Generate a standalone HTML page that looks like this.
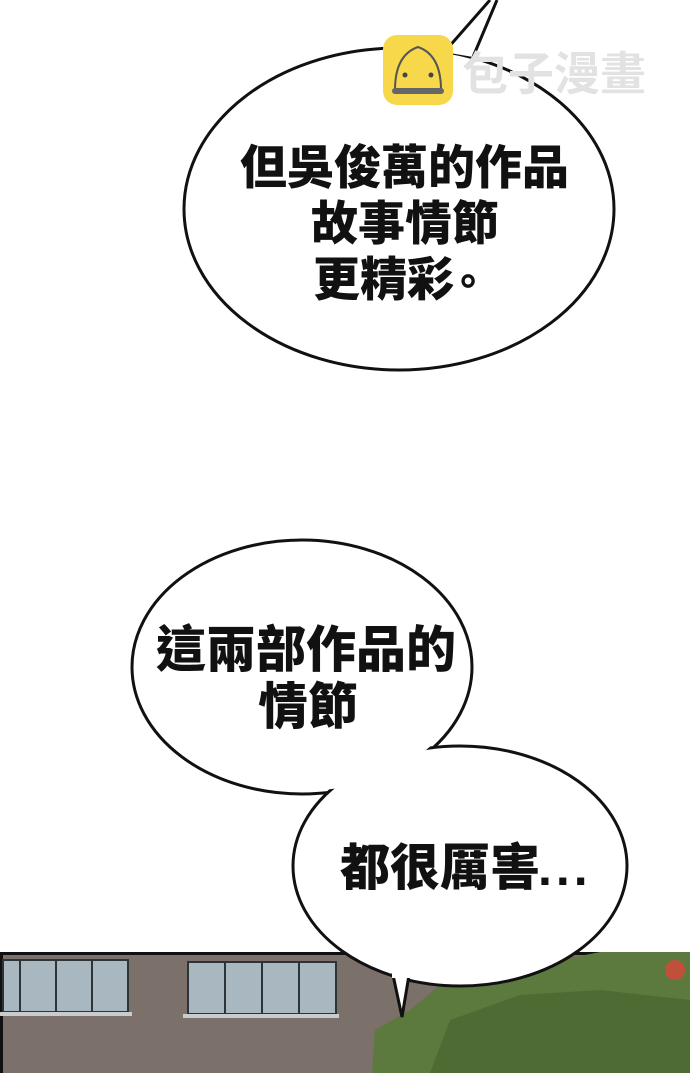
<!DOCTYPE html>
<html><head><meta charset="utf-8"><style>
html,body{margin:0;padding:0;background:#fff;width:690px;height:1073px;overflow:hidden}
svg{display:block}
text{font-family:"Liberation Sans","Noto Sans CJK TC",sans-serif;font-weight:900;fill:#111}
</style></head><body>
<svg width="690" height="1073" viewBox="0 0 690 1073">
<rect x="0" y="952" width="690" height="121" fill="#7c706b"/>
<rect x="0" y="952" width="690" height="3" fill="#111"/>
<rect x="0" y="952" width="3" height="121" fill="#111"/>
<rect x="687" y="952" width="3" height="121" fill="#111"/>
<g fill="#a9b7c0" stroke="#2d3438" stroke-width="2">
<rect x="3" y="960" width="125" height="52"/>
<rect x="188" y="962" width="148" height="52"/>
</g>
<g stroke="#2d3438" stroke-width="2">
<line x1="20" y1="960" x2="20" y2="1012"/><line x1="56" y1="960" x2="56" y2="1012"/><line x1="92" y1="960" x2="92" y2="1012"/>
<line x1="225" y1="962" x2="225" y2="1014"/><line x1="262" y1="962" x2="262" y2="1014"/><line x1="299" y1="962" x2="299" y2="1014"/>
</g>
<rect x="0" y="1012" width="132" height="4" fill="#c9ccce"/>
<rect x="183" y="1014" width="156" height="4" fill="#c9ccce"/>
<path d="M372 1073 L375 1030 L410 1010 L440 985 L500 970 L560 960 L600 952 L690 952 L690 1073 Z" fill="#5d7a3e"/>
<path d="M430 1073 L450 1020 L520 995 L600 990 L690 1000 L690 1073Z" fill="#4e6b33"/>
<circle cx="675" cy="970" r="10" fill="#c0503a"/>
<ellipse cx="399" cy="209" rx="215" ry="161" fill="#fff" stroke="#111" stroke-width="3"/>
<path d="M444 52 L490 0 L498 0 L473 57 Z" fill="#fff"/>
<path d="M447 49 L490 0 M497 0 L473 57" stroke="#111" stroke-width="3" fill="none"/>
<ellipse cx="302" cy="667" rx="170" ry="127" fill="#fff" stroke="#111" stroke-width="3"/>
<ellipse cx="460" cy="866" rx="167" ry="120" fill="#fff" stroke="#111" stroke-width="3"/>
<path d="M393 975 L402 1017 L409 975 Z" fill="#fff" stroke="#111" stroke-width="3"/>
<ellipse cx="460" cy="866" rx="164" ry="117" fill="#fff"/>
<ellipse cx="302" cy="667" rx="167" ry="124" fill="#fff"/>
<rect x="392" y="970" width="18" height="8" fill="#fff"/>
<g font-size="47">
<text x="240" y="184">但吳俊萬的作品</text>
<text x="311" y="240">故事情節</text>
<text x="313" y="296">更精彩</text>
<text x="448" y="296" font-size="40">。</text>
</g>
<g font-size="50">
<text x="156" y="667">這兩部作品的</text>
<text x="258" y="724">情節</text>
<text x="340" y="885">都很厲害</text>
<text x="538" y="885" letter-spacing="4">...</text>
</g>
<rect x="383" y="35" width="70" height="70" rx="14" fill="#f6d84a"/>
<path d="M395 90 Q395 55 418 47 Q441 55 441 90 Z" fill="none" stroke="#555" stroke-width="2"/>
<rect x="392" y="88" width="52" height="6" rx="3" fill="#666"/>
<circle cx="405" cy="75" r="2.5" fill="#444"/><circle cx="431" cy="75" r="2.5" fill="#444"/>
<text x="462" y="90" font-size="46" style="fill:#e2e2e2;font-weight:700">包子漫畫</text>
</svg>
</body></html>
